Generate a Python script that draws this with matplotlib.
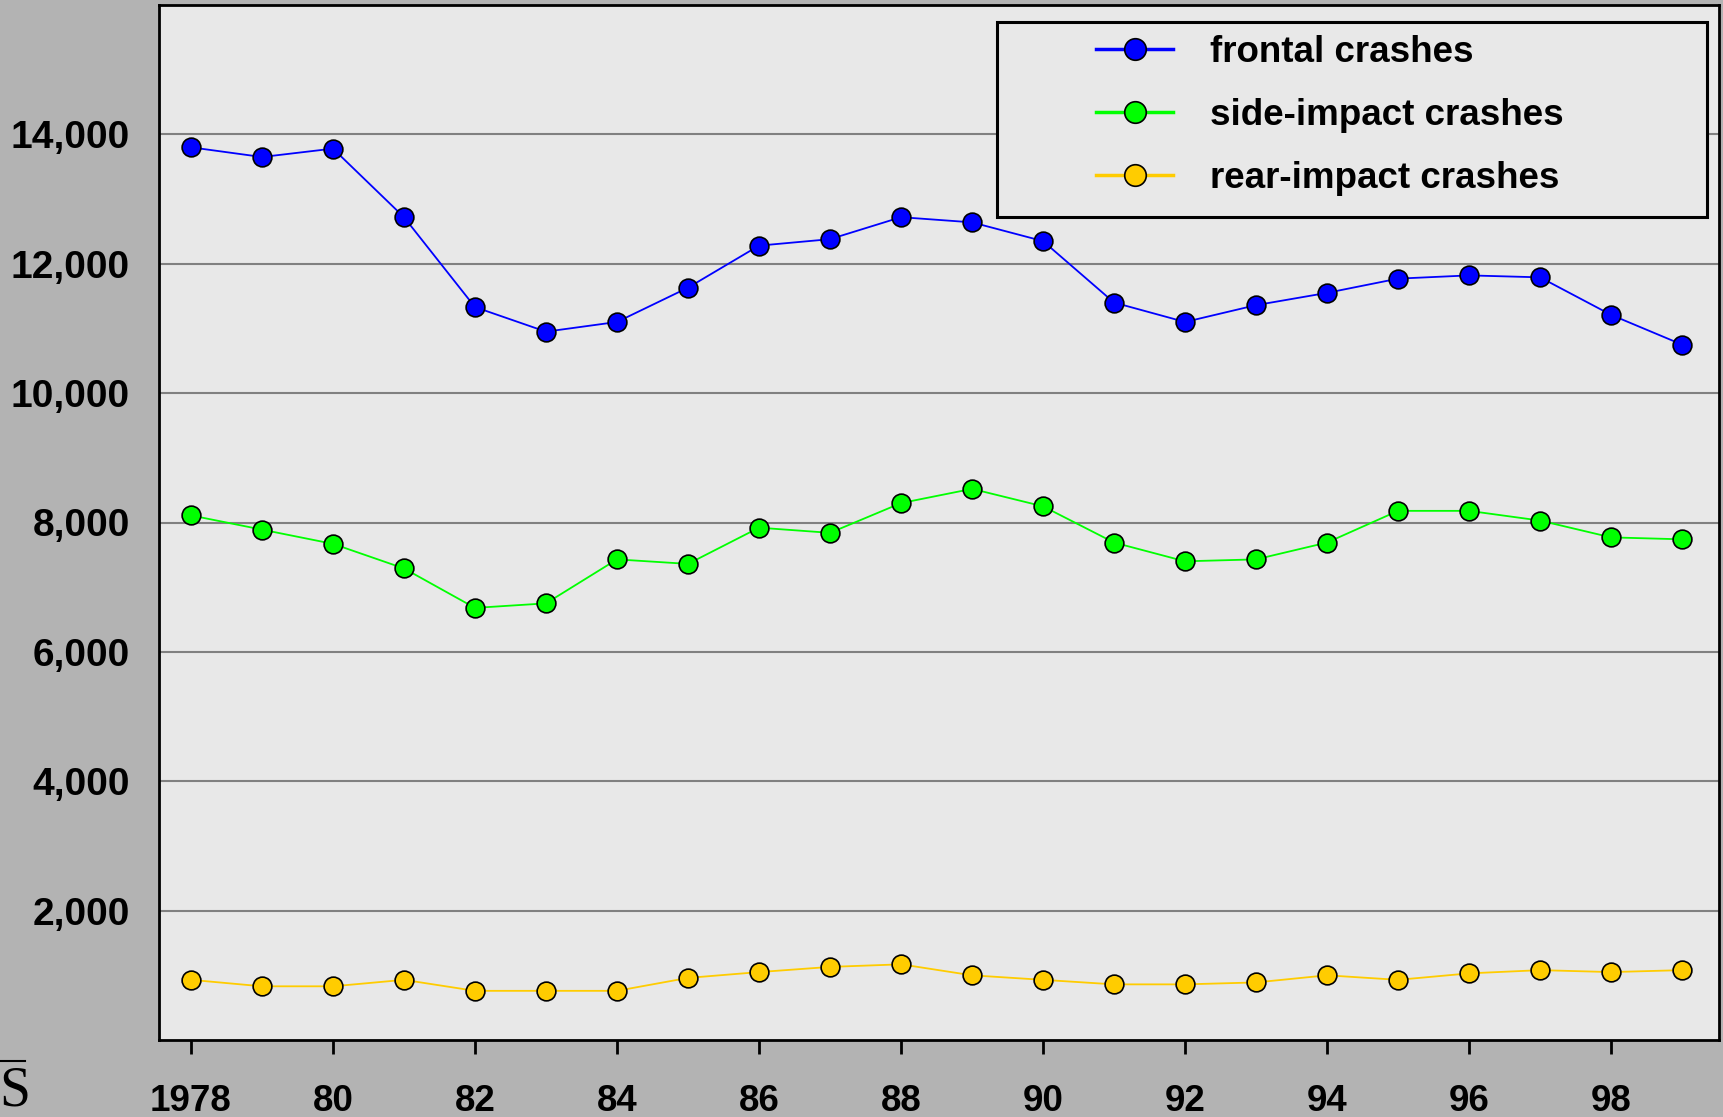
import matplotlib.pyplot as plt
from matplotlib.lines import Line2D
from matplotlib.patches import Rectangle
from matplotlib.ticker import FuncFormatter


YEARS = list(range(1978, 2000))
FRONTAL = [13800, 13650, 13780, 12720, 11330, 10950, 11100, 11630, 12280, 12380, 12720,
           12640, 12350, 11400, 11100, 11360, 11550, 11770, 11820, 11790, 11210, 10750]
SIDE = [8110, 7890, 7670, 7290, 6680, 6750, 7430, 7360, 7920, 7840, 8300,
        8520, 8250, 7690, 7400, 7430, 7690, 8180, 8180, 8030, 7770, 7740]
REAR = [930, 830, 830, 930, 760, 760, 760, 960, 1050, 1130, 1170,
        1000, 930, 860, 860, 890, 1000, 930, 1030, 1080, 1050, 1080]

SERIES = [
    ("frontal crashes", FRONTAL, "#0000ff"),
    ("side-impact crashes", SIDE, "#00ff00"),
    ("rear-impact crashes", REAR, "#ffcc00"),
]
Y_TICKS = [2000, 4000, 6000, 8000, 10000, 12000, 14000]
X_TICKS = list(range(1978, 2000, 2))
X_LABELS = ["1978"] + [str(y)[2:] for y in X_TICKS[1:]]

plt.rcParams["font.family"] = ["Liberation Sans", "DejaVu Sans"]
plt.rcParams["font.weight"] = "bold"

W, H = 1724, 1117
fig = plt.figure(figsize=(W / 100, H / 100), dpi=100, facecolor="#b3b3b3")
ax = fig.add_axes([159 / W, 1 - 1040 / H, (1719 - 159) / W, (1040 - 5) / H])
ax.set_facecolor("#e8e8e8")

handles = []
for label, values, color in SERIES:
    (line,) = ax.plot(YEARS, values, color=color, linewidth=1.3, marker="o",
                      markersize=13.5, markerfacecolor=color, markeredgecolor="black",
                      markeredgewidth=1.2, label=label, zorder=3)
    handles.append(line)

ax.set_xlim(1977.55, 1999.52)
ax.set_ylim(0, 16000)
ax.set_yticks(Y_TICKS)
ax.yaxis.set_major_formatter(FuncFormatter(lambda v, _: f"{int(v):,}"))
ax.set_xticks(X_TICKS)
ax.set_xticklabels(X_LABELS)
ax.grid(axis="y", color="#808080", linewidth=1.5, zorder=1)
ax.set_axisbelow(True)

ax.tick_params(axis="y", length=0, pad=21, labelsize=28)
ax.tick_params(axis="x", length=10, width=2, pad=22, labelsize=26.5, direction="out")
for spine in ax.spines.values():
    spine.set_linewidth(2)
    spine.set_color("black")

# legend frame drawn separately so it can be wider than its contents
x0 = (997 - 159) / (1719 - 159)
x1 = (1707 - 159) / (1719 - 159)
y_top = (1040 - 22) / 1035
y_bot = (1040 - 217) / 1035
ax.add_patch(Rectangle((x0, y_bot), x1 - x0, y_top - y_bot, transform=ax.transAxes,
                       facecolor="#e8e8e8", edgecolor="black", linewidth=2.2, zorder=4))
leg = ax.legend(handles=handles, loc="upper left",
                bbox_to_anchor=((1085 - 159) / (1719 - 159), (1040 - 24) / 1035),
                frameon=False, fontsize=26.5, handlelength=2.1, handletextpad=1.0,
                labelspacing=0.76, borderaxespad=0, borderpad=0.3, markerscale=1.15)
leg.set_zorder(5)
for lh in leg.get_lines():
    lh.set_linewidth(2.5)

fig.text(30 / W, 1 - 1106 / H, "S", ha="right", va="baseline", fontsize=40,
         family="Liberation Serif", fontweight="normal")
fig.add_artist(Line2D([0, 25 / W], [1 - 1061 / H, 1 - 1061 / H], color="black",
                      linewidth=1.5, transform=fig.transFigure))

fig.savefig("out.png", dpi=100, facecolor=fig.get_facecolor())
